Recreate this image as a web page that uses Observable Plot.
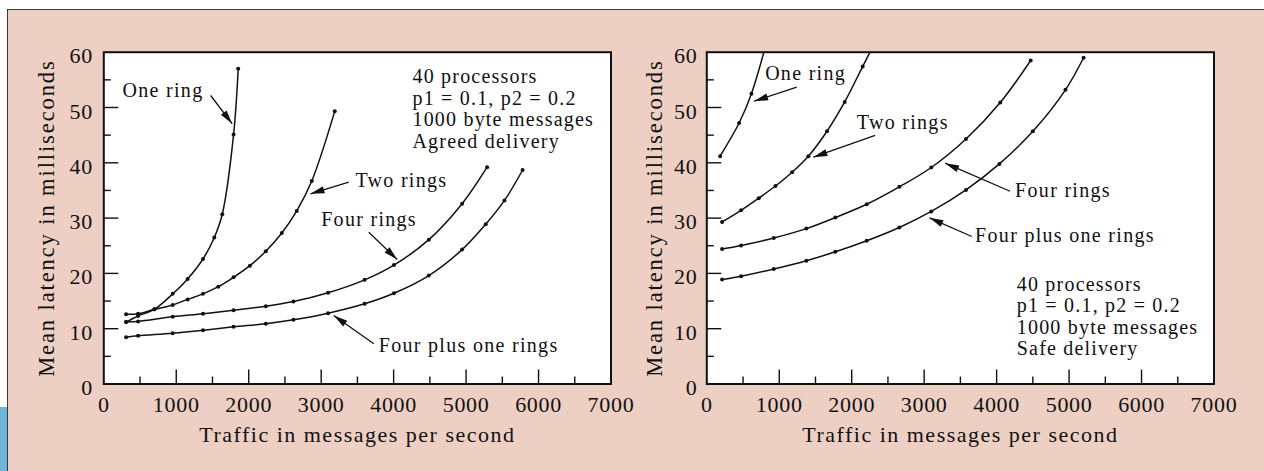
<!DOCTYPE html>
<html><head><meta charset="utf-8">
<script src="https://cdn.jsdelivr.net/npm/d3@7"></script>
<script src="https://cdn.jsdelivr.net/npm/@observablehq/plot@0.6"></script>
<style>
html,body{margin:0;padding:0;background:#fff;width:1264px;height:471px;overflow:hidden;position:relative}
#panel{position:absolute;left:7px;top:9px;width:1257px;height:462px;background:#EDCFC4;border-left:1.5px solid #3a3a3a;border-top:1.5px solid #3a3a3a;box-sizing:border-box}
#blue{position:absolute;left:0;top:407px;width:7px;height:64px;background:#6DB6D9}
.pl{position:absolute;top:0;width:640px;height:471px}
#left{left:0}
#right{left:603.4px}
svg text{font-family:"Liberation Serif","DejaVu Serif",serif}
g[aria-description="note"] text{letter-spacing:1.3px}
g[aria-description="info"] text{letter-spacing:1.2px}
g[aria-description="xtitle"] text{letter-spacing:1.5px}
g[aria-description="ytitle"] text{letter-spacing:1.9px}
g[aria-label="x-axis tick label"] text, g[aria-label="y-axis tick label"] text{letter-spacing:0.7px}
</style></head><body>
<div id="panel"></div><div id="blue"></div>
<div id="left" class="pl"></div><div id="right" class="pl"></div>
<script>
// ---------- tick values ----------
const xTickLabels = [0, 1000, 2000, 3000, 4000, 5000, 6000, 7000];
const yTickLabels = [0, 10, 20, 30, 40, 50, 60];
const xMajor = [1000, 2000, 3000, 4000, 5000, 6000];
const xMinor = [500, 1500, 2500, 3500, 4500, 5500, 6500];
const yMajor = [10, 20, 30, 40, 50];
const yMinor = [5, 15, 25, 35, 45, 55];

// ---------- left panel: agreed delivery ----------
const agreedOneX = [308, 473, 698, 951, 1157, 1369, 1525, 1635, 1791, 1855];
const agreedOneY = [11.2, 12.3, 13.5, 16.3, 19.0, 22.6, 26.5, 30.7, 45.1, 57.0];
const agreedTwoX = [308, 473, 698, 951, 1157, 1369, 1580, 1791, 2016, 2236, 2457, 2663, 2870, 3187];
const agreedTwoY = [12.6, 12.7, 13.5, 14.3, 15.3, 16.3, 17.6, 19.3, 21.4, 24.0, 27.3, 31.3, 36.7, 49.3];
const agreedFourX = [308, 473, 951, 1369, 1791, 2236, 2617, 3095, 3600, 4004, 4486, 4945, 5290];
const agreedFourY = [11.2, 11.3, 12.15, 12.7, 13.35, 14.05, 14.9, 16.5, 18.84, 21.5, 26.1, 32.6, 39.2];
const agreedFourOneX = [308, 473, 951, 1369, 1791, 2236, 2617, 3095, 3600, 4004, 4486, 4945, 5271, 5530, 5780];
const agreedFourOneY = [8.47, 8.71, 9.19, 9.73, 10.34, 10.9, 11.6, 12.8, 14.5, 16.4, 19.6, 24.3, 28.9, 33.2, 38.7];

// ---------- right panel: safe delivery ----------
const safeOneX = [183, 446, 616, 800];
const safeOneY = [41.2, 47.2, 52.5, 60.6];
const safeTwoX = [211, 473, 717, 947, 1177, 1402, 1659, 1903, 2151, 2330];
const safeTwoY = [29.3, 31.4, 33.6, 35.8, 38.3, 41.2, 45.7, 51.0, 57.4, 62.0];
const safeFourX = [211, 473, 924, 1374, 1774, 2207, 2657, 3098, 3577, 4050, 4470];
const safeFourY = [24.4, 25.05, 26.4, 28.1, 30.1, 32.5, 35.65, 39.15, 44.3, 50.9, 58.5];
const safeFourOneX = [211, 473, 924, 1374, 1774, 2207, 2657, 3098, 3577, 4038, 4500, 4950, 5200];
const safeFourOneY = [18.9, 19.5, 20.8, 22.3, 23.9, 25.9, 28.3, 31.2, 35.1, 39.8, 45.7, 53.2, 59.0];

// ---------- annotations ----------
const seriesNames = ["One ring", "Two rings", "Four rings", "Four plus one rings"];
const agreedNoteX = [258, 3473, 3000, 3795];
const agreedNoteY = [52.97, 36.75, 29.82, 6.9];
const agreedArrowFrom = [[1475, 52.17], [3381, 36.49], [3657, 27.45], [3726, 7.27]];
const agreedArrowTo = [[1772, 47.05], [2853, 34.39], [4049, 22.51], [3174, 12.39]];
const safeNoteX = [805, 2070, 4255, 3703];
const safeNoteY = [56.17, 47.31, 34.94, 26.8];
const safeArrowFrom = [[1242, 53.67], [2323, 44.94], [4186, 34.86], [3657, 26.67]];
const safeArrowTo = [[653, 51.14], [1471, 41.01], [3289, 39.93], [3072, 30.05]];

const agreedInfo = ["40 processors", "p1 = 0.1, p2 = 0.2", "1000 byte messages", "Agreed delivery"];
const agreedInfoPos = [4260, 57.2];
const safeInfo = ["40 processors", "p1 = 0.1, p2 = 0.2", "1000 byte messages", "Safe delivery"];
const safeInfoPos = [4278, 19.66];

const xTitle = "Traffic in messages per second";
const yTitle = "Mean latency in milliseconds";

// ---------- layout ----------
const W = 640, H = 471;
const mL = 103.3, mR = W - 610.5, mT = 51.7, mB = H - 383.5;
const xDomain = [0, 7000], yDomain = [0, 60];
const kx = (W - mL - mR) / (xDomain[1] - xDomain[0]);
const ky = (H - mT - mB) / (yDomain[1] - yDomain[0]);

const arrowHead = {
  draw(context) {
    context.moveTo(0, 0);
    context.lineTo(-14, -3.6);
    context.lineTo(-14, 3.6);
    context.closePath();
  }
};

function rows(xsList, ysList) {
  const out = [];
  xsList.forEach((xs, s) => xs.forEach((x, i) => out.push({series: seriesNames[s], x, y: ysList[s][i]})));
  return out;
}

function panel(curves, noteX, noteY, from, to, info, infoPos, yPad, yTitleDx) {
  const notes = seriesNames.map((t, i) => ({t, x: noteX[i], y: noteY[i]}));
  const arrows = from.map((f, i) => ({x1: f[0], y1: f[1], x2: to[i][0], y2: to[i][1]}));
  const ang = d => Math.atan2(-(d.y2 - d.y1) * ky, (d.x2 - d.x1) * kx) * 180 / Math.PI;
  const tk = {stroke: "#111", strokeWidth: 1.4};
  return Plot.plot({
    width: W, height: H,
    marginLeft: mL, marginRight: mR, marginTop: mT, marginBottom: mB,
    x: {domain: xDomain}, y: {domain: yDomain},
    style: {background: "transparent", fontFamily: "Liberation Serif", color: "#111", overflow: "visible"},
    marks: [
      Plot.frame({fill: "white", stroke: null}),
      Plot.ruleX(xMajor, {x: d => d, y1: 0, y2: 14 / ky, ...tk}),
      Plot.ruleX(xMinor, {x: d => d, y1: 0, y2: 7 / ky, ...tk}),
      Plot.ruleY(yMajor, {y: d => d, x1: 0, x2: 15 / kx, ...tk}),
      Plot.ruleY(yMinor, {y: d => d, x1: 0, x2: 7.5 / kx, ...tk}),
      Plot.axisX(xTickLabels, {tickSize: 0, tickPadding: 12.5, tickFormat: d => String(d), label: null, fontSize: 22, fill: "#111"}),
      Plot.axisY(yTickLabels, {tickSize: 0, tickPadding: yPad, tickFormat: d => String(d), label: null, fontSize: 22, dy: 4, fill: "#111"}),
      Plot.line(curves, {x: "x", y: "y", z: "series", curve: "catmull-rom", stroke: "#111", strokeWidth: 1.5, clip: true}),
      Plot.dot(curves, {x: "x", y: "y", r: 2, fill: "#111", stroke: null, clip: true}),
      Plot.link(arrows, {x1: "x1", y1: "y1", x2: "x2", y2: "y2", stroke: "#111", strokeWidth: 1.3}),
      Plot.dot(arrows, {x: "x2", y: "y2", symbol: arrowHead, rotate: ang, fill: "#111", stroke: null}),
      Plot.text(notes, {x: "x", y: "y", text: "t", textAnchor: "start", lineAnchor: "middle", fontSize: 20, fill: "#111", ariaDescription: "note"}),
      Plot.text([info.join("\n")], {x: infoPos[0], y: infoPos[1], textAnchor: "start", lineAnchor: "top", lineHeight: 1.08, fontSize: 20, fill: "#111", ariaDescription: "info"}),
      Plot.text([xTitle], {frameAnchor: "bottom", dy: 50.5, textAnchor: "middle", lineAnchor: "middle", fontSize: 22, fill: "#111", ariaDescription: "xtitle"}),
      Plot.text([yTitle], {frameAnchor: "left", dx: yTitleDx, rotate: -90, textAnchor: "middle", lineAnchor: "middle", fontSize: 22.5, fill: "#111", ariaDescription: "ytitle"}),
      Plot.frame({stroke: "#111", strokeWidth: 2})
    ]
  });
}

document.getElementById("left").append(panel(
  rows([agreedOneX, agreedTwoX, agreedFourX, agreedFourOneX], [agreedOneY, agreedTwoY, agreedFourY, agreedFourOneY]),
  agreedNoteX, agreedNoteY, agreedArrowFrom, agreedArrowTo, agreedInfo, agreedInfoPos, 10.8, -57));
document.getElementById("right").append(panel(
  rows([safeOneX, safeTwoX, safeFourX, safeFourOneX], [safeOneY, safeTwoY, safeFourY, safeFourOneY]),
  safeNoteX, safeNoteY, safeArrowFrom, safeArrowTo, safeInfo, safeInfoPos, 9.3, -52));
</script></body></html>
